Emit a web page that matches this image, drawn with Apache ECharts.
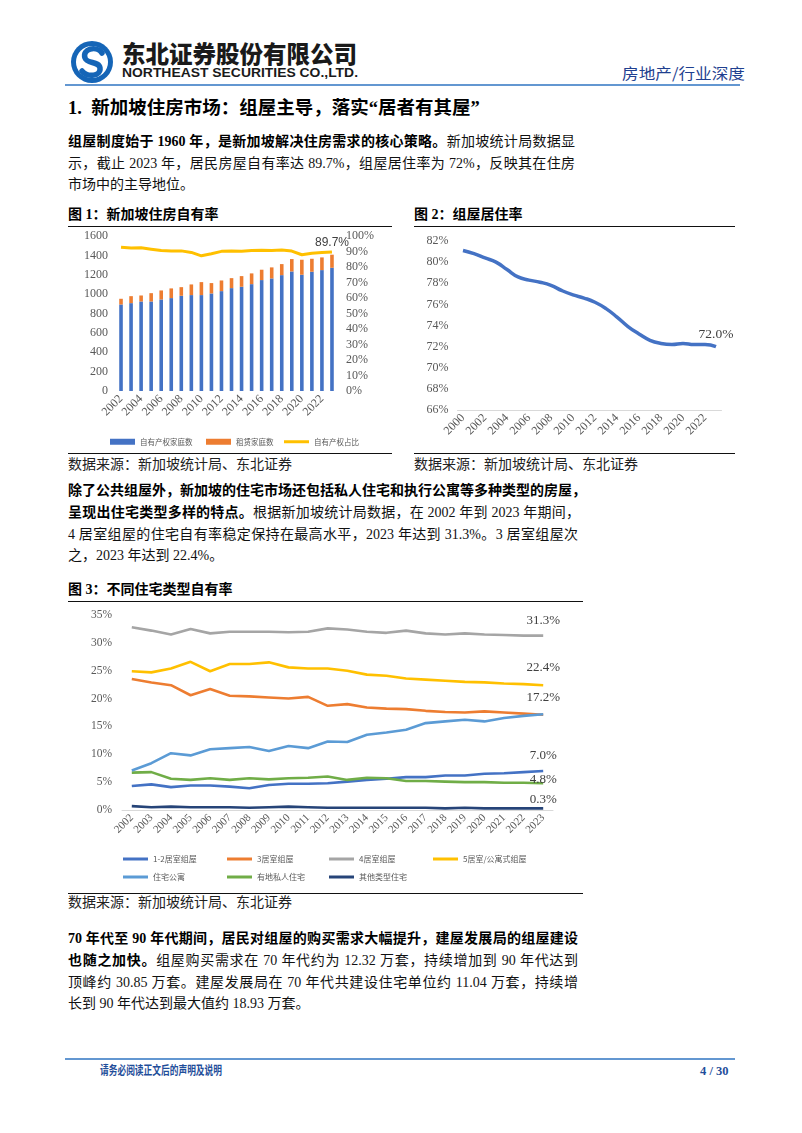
<!DOCTYPE html>
<html lang="zh-CN">
<head>
<meta charset="utf-8">
<script src="https://cdn.jsdelivr.net/npm/echarts@6.0.0/dist/echarts.min.js"></script>
<style>
  html,body{margin:0;padding:0;background:#fff;}
  body{width:802px;height:1133px;position:relative;overflow:hidden;
       font-family:"Liberation Serif","Noto Sans CJK SC",serif;color:#111;}
  .ln{position:absolute;left:68px;height:20px;line-height:20px;font-size:14px;white-space:nowrap;}
  .j{text-align:justify;text-align-last:justify;text-justify:inter-character;}
  .b{font-weight:bold;color:#000;}
  .rule{position:absolute;height:0;border-top:1.3px solid #111;}
  .ftitle{position:absolute;font-size:14px;font-weight:bold;height:20px;line-height:20px;white-space:nowrap;color:#000;}
  .src{position:absolute;font-size:14px;height:20px;line-height:20px;white-space:nowrap;color:#222;}
  .chart{position:absolute;}
</style>
</head>
<body>
<svg style="position:absolute;left:0;top:0" width="802" height="100">
  <circle cx="92" cy="62" r="21" fill="#1565B7"/>
  <circle cx="92" cy="62" r="16" fill="#fff"/>
  <path d="M102 53 C96 45,82 49,85 58 C87 64,99 61,100 68 C101 76,88 78,82 71" stroke="#1565B7" stroke-width="5.5" fill="none" stroke-linecap="round"/>
  <text x="122" y="63" font-family="Noto Sans CJK SC" font-weight="900" font-size="24" textLength="235" lengthAdjust="spacingAndGlyphs" fill="#1a1a1a">东北证券股份有限公司</text>
  <text x="122" y="77" font-family="Liberation Sans" font-weight="bold" font-size="12.5" textLength="236" lengthAdjust="spacingAndGlyphs" fill="#1a1a1a">NORTHEAST SECURITIES CO.,LTD.</text>
  <text x="622" y="79" font-family="Noto Sans CJK SC" font-size="15" textLength="123" lengthAdjust="spacingAndGlyphs" fill="#1F3F8F">房地产/行业深度</text>
  <line x1="65" y1="85" x2="740" y2="85" stroke="#2F75C2" stroke-width="1.5"/>
</svg>

<div class="ln b" style="top:96px;height:24px;line-height:24px;font-size:18.5px;">1.&nbsp;&nbsp;新加坡住房市场：组屋主导，落实“居者有其屋”</div>

<div class="ln j" style="top:132px;width:507px;"><span class="b">组屋制度始于 1960 年，是新加坡解决住房需求的核心策略。</span>新加坡统计局数据显</div>
<div class="ln j" style="top:154px;width:507px;">示，截止 2023 年，居民房屋自有率达 89.7%，组屋居住率为 72%，反映其在住房</div>
<div class="ln" style="top:175px;">市场中的主导地位。</div>

<div class="ftitle" style="left:68px;top:205px;">图 1：新加坡住房自有率</div>
<div class="rule" style="left:68px;top:226px;width:324px;"></div>
<div class="ftitle" style="left:414px;top:205px;">图 2：组屋居住率</div>
<div class="rule" style="left:414px;top:226px;width:321px;"></div>

<div id="c1" class="chart" style="left:60px;top:228px;width:335px;height:222px;"></div>
<div id="c2" class="chart" style="left:405px;top:228px;width:335px;height:222px;"></div>

<div class="rule" style="left:68px;top:453px;width:324px;"></div>
<div class="rule" style="left:414px;top:453px;width:321px;"></div>
<div class="src" style="left:68px;top:455px;">数据来源：新加坡统计局、东北证券</div>
<div class="src" style="left:414px;top:455px;">数据来源：新加坡统计局、东北证券</div>

<div class="ln j" style="top:481px;width:514px;"><span class="b">除了公共组屋外，新加坡的住宅市场还包括私人住宅和执行公寓等多种类型的房屋，</span></div>
<div class="ln j" style="top:503px;width:512px;"><span class="b">呈现出住宅类型多样的特点。</span>根据新加坡统计局数据，在 2002 年到 2023 年期间，</div>
<div class="ln j" style="top:525px;width:510px;">4 居室组屋的住宅自有率稳定保持在最高水平，2023 年达到 31.3%。3 居室组屋次</div>
<div class="ln" style="top:546px;">之，2023 年达到 22.4%。</div>

<div class="ftitle" style="left:68px;top:580px;">图 3：不同住宅类型自有率</div>
<div class="rule" style="left:68px;top:601px;width:515px;"></div>
<div id="c3" class="chart" style="left:60px;top:605px;width:530px;height:285px;"></div>
<div class="rule" style="left:68px;top:893px;width:515px;"></div>
<div class="src" style="left:68px;top:893px;">数据来源：新加坡统计局、东北证券</div>

<div class="ln j" style="top:929px;width:510px;"><span class="b">70 年代至 90 年代期间，居民对组屋的购买需求大幅提升，建屋发展局的组屋建设</span></div>
<div class="ln j" style="top:951px;width:510px;"><span class="b">也随之加快。</span>组屋购买需求在 70 年代约为 12.32 万套，持续增加到 90 年代达到</div>
<div class="ln j" style="top:973px;width:510px;">顶峰约 30.85 万套。建屋发展局在 70 年代共建设住宅单位约 11.04 万套，持续增</div>
<div class="ln" style="top:994px;">长到 90 年代达到最大值约 18.93 万套。</div>

<svg style="position:absolute;left:0;top:1040px" width="802" height="50">
  <line x1="65" y1="19" x2="735" y2="19" stroke="#2F75C2" stroke-width="1.5"/>
  <text x="100" y="35" font-family="Noto Sans CJK SC" font-weight="bold" font-size="12" textLength="122" lengthAdjust="spacingAndGlyphs" fill="#1F4E9A">请务必阅读正文后的声明及说明</text>
  <text x="700" y="35" font-family="Liberation Serif" font-weight="bold" font-size="12.5" fill="#1F4E9A">4 / 30</text>
</svg>

<script>
// ---------- Data ----------
const years1 = ['2002','2003','2004','2005','2006','2007','2008','2009','2010','2011','2012','2013','2014','2015','2016','2017','2018','2019','2020','2021','2022','2023'];
const ownedHouseholds = [893,907,924,924,945,959,983,990,990,1007,1031,1062,1076,1103,1145,1162,1196,1234,1200,1231,1248,1272];
const rentedHouseholds = [59,72,62,86,93,100,89,110,134,107,110,103,110,111,107,114,114,128,155,134,131,135];
const ownershipRate = [92.8,92.3,92.4,91.5,90.6,90.3,90.4,89.4,87.2,88.6,90.1,90.4,90.2,90.6,90.8,90.7,90.9,90.3,87.9,88.9,89.3,89.7];

const years2 = ['2000','2001','2002','2003','2004','2005','2006','2007','2008','2009','2010','2011','2012','2013','2014','2015','2016','2017','2018','2019','2020','2021','2022','2023'];
const hdbResidence = [81.1,80.8,80.4,80.0,79.3,78.6,78.3,78.1,77.8,77.3,76.9,76.6,76.2,75.6,74.8,73.9,73.2,72.6,72.3,72.2,72.3,72.2,72.2,72.0];

const years3 = years1;
const room12 = [4.3,4.6,4.1,4.4,4.4,4.2,3.9,4.5,4.7,4.7,4.8,5.1,5.4,5.6,5.9,5.9,6.2,6.2,6.5,6.6,6.8,7.0];
const room3 = [23.5,22.9,22.4,20.6,21.7,20.5,20.4,20.2,20.0,20.3,18.7,19.0,18.4,18.2,18.1,17.8,17.6,17.5,17.7,17.5,17.3,17.1];
const room4 = [32.8,32.2,31.5,32.5,31.7,32.0,32.0,32.0,31.9,32.0,32.6,32.4,32.0,31.8,32.2,31.7,31.5,31.7,31.5,31.4,31.3,31.3];
const room5 = [24.9,24.7,25.4,26.6,24.9,26.2,26.2,26.5,25.6,25.4,25.4,25.0,24.3,24.1,23.6,23.4,23.2,23.0,22.9,22.7,22.6,22.4];
const condo = [7.1,8.4,10.2,9.8,10.9,11.1,11.3,10.6,11.5,11.1,12.3,12.2,13.5,13.9,14.4,15.6,15.9,16.2,15.9,16.5,16.9,17.2];
const landed = [6.7,6.8,5.6,5.4,5.7,5.4,5.7,5.5,5.7,5.8,6.0,5.4,5.8,5.7,5.2,5.2,5.1,5.0,5.0,4.9,4.9,4.8];
const others = [0.7,0.5,0.6,0.5,0.5,0.5,0.4,0.5,0.6,0.5,0.4,0.4,0.4,0.4,0.4,0.4,0.3,0.4,0.3,0.3,0.3,0.3];

const legend1 = ['自有产权家庭数','租赁家庭数','自有产权占比'];
const legend3 = ['1-2居室组屋','3居室组屋','4居室组屋','5居室/公寓式组屋','住宅公寓','有地私人住宅','其他类型住宅'];

// ---------- Styles ----------
const SERIF = 'Liberation Serif';
const CJK = 'Noto Sans CJK SC';
const AXC = '#595959';
const axisLbl = {fontFamily:SERIF,fontSize:12,color:AXC};

function lastLabel(arr, fmt, extra){
  return arr.map((v,i)=> i===arr.length-1 ? {value:v,label:Object.assign({show:true,formatter:fmt},extra)} : v);
}
const pointSym = {symbol:'circle',symbolSize:0.01,showSymbol:true,showAllSymbol:true};

// ---------- Chart 1 ----------
const c1 = echarts.init(document.getElementById('c1'),null,{renderer:'canvas'});
const lg1x = [45,141,219];
c1.setOption({
  animation:false,
  grid:{left:56,right:58,top:8,bottom:59},
  legend: legend1.map((n,i)=>({
    data:[i===2?{name:n,icon:'rect',itemStyle:{color:'#FFC000'}}:{name:n,icon:'rect'}],
    left:lg1x[i], top:205, itemWidth:25, itemHeight:i===2?3:6, itemGap:4,
    textStyle:{fontFamily:CJK,fontSize:7.5,color:AXC}, selectedMode:false
  })),
  xAxis:{type:'category',data:years1,axisLine:{show:false},axisTick:{show:false},
    axisLabel:Object.assign({rotate:45,interval:1,margin:6},axisLbl)},
  yAxis:[
    {type:'value',min:0,max:1600,interval:200,splitLine:{show:false},axisLine:{show:false},axisTick:{show:false},
     axisLabel:Object.assign({margin:8,formatter:(v)=>String(v)},axisLbl)},
    {type:'value',min:0,max:100,interval:10,position:'right',splitLine:{show:false},axisLine:{show:false},axisTick:{show:false},
     axisLabel:Object.assign({margin:9,formatter:'{value}%'},axisLbl)}
  ],
  series:[
    {name:legend1[0],type:'bar',stack:'h',data:ownedHouseholds,barWidth:3.6,itemStyle:{color:'#4472C4'}},
    {name:legend1[1],type:'bar',stack:'h',data:rentedHouseholds,barWidth:3.6,itemStyle:{color:'#ED7D31'}},
    Object.assign({name:legend1[2],type:'line',yAxisIndex:1,z:5,
      data:lastLabel(ownershipRate,(p)=>p.value.toFixed(1)+'%',{position:'top',distance:3,fontFamily:'Liberation Sans',fontSize:12,color:'#404040'}),
      lineStyle:{color:'#FFC000',width:3},itemStyle:{color:'#FFC000'}},pointSym)
  ]
});

// ---------- Chart 2 ----------
const c2 = echarts.init(document.getElementById('c2'));
c2.setOption({
  animation:false,
  grid:{left:52.5,right:18.5,top:13,bottom:40},
  xAxis:{type:'category',data:years2,axisLine:{show:true,lineStyle:{color:'#D9D9D9',width:1}},axisTick:{show:false},
    axisLabel:Object.assign({rotate:45,interval:1,margin:6},axisLbl)},
  yAxis:{type:'value',min:66,max:82,interval:2,splitLine:{show:false},axisLine:{show:false},axisTick:{show:false},
    axisLabel:Object.assign({margin:9,formatter:'{value}%'},axisLbl)},
  series:[Object.assign({type:'line',smooth:true,
    data:lastLabel(hdbResidence,(p)=>p.value.toFixed(1)+'%',{position:'top',distance:5,fontFamily:SERIF,fontSize:13.5,color:'#404040'}),
    lineStyle:{color:'#4472C4',width:3.5},itemStyle:{color:'#4472C4'}},pointSym)]
});

// ---------- Chart 3 ----------
const c3 = echarts.init(document.getElementById('c3'));
const colors3 = ['#4472C4','#ED7D31','#A5A5A5','#FFC000','#5B9BD5','#70AD47','#264478'];
const series3 = [room12,room3,room4,room5,condo,landed,others];
const labelOpt = [
  {dist:9,off:[0,0]},
  null,
  {dist:9,off:[0,0]},
  {dist:11,off:[0,0]},
  {dist:10,off:[0,0]},
  {dist:0,off:[0,3]},
  {dist:2,off:[0,0]}
];
const lg3pos = [[58,245],[162,245],[264,245],[368,245],[58,263],[162,263],[264,263]];
c3.setOption({
  animation:false,
  grid:{left:62,right:37,top:10,bottom:80},
  legend: legend3.map((n,i)=>({
    data:[{name:n,icon:'rect'}], left:lg3pos[i][0], top:lg3pos[i][1], itemWidth:25, itemHeight:3, itemGap:4,
    textStyle:{fontFamily:CJK,fontSize:8,color:AXC}, selectedMode:false
  })),
  xAxis:{type:'category',data:years3,axisLine:{show:true,lineStyle:{color:'#D9D9D9',width:1}},axisTick:{show:false},
    axisLabel:{rotate:45,interval:0,margin:6,fontFamily:SERIF,fontSize:11,color:AXC}},
  yAxis:{type:'value',min:0,max:35,interval:5,splitLine:{show:false},axisLine:{show:false},axisTick:{show:false},
    axisLabel:{margin:10,formatter:'{value}%',fontFamily:SERIF,fontSize:11.5,color:AXC}},
  series: series3.map((arr,i)=>Object.assign({
    name:legend3[i], type:'line', z:[2,3,2,2,4,2,2][i],
    data: labelOpt[i] ? lastLabel(arr,(p)=>p.value.toFixed(1)+'%',{position:'top',distance:labelOpt[i].dist,offset:labelOpt[i].off,fontFamily:SERIF,fontSize:13,color:'#404040'}) : arr,
    lineStyle:{color:colors3[i],width:2.6}, itemStyle:{color:colors3[i]}
  },pointSym))
});
</script>
</body>
</html>
